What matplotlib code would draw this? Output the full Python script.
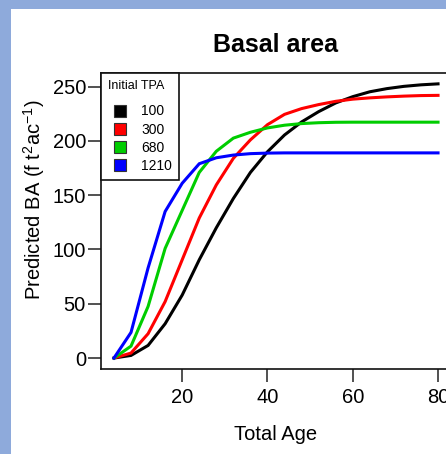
import matplotlib
matplotlib.use("Agg")
import matplotlib.pyplot as plt
from matplotlib.lines import Line2D
from matplotlib.patches import Rectangle

plt.rcParams['font.family'] = ['Liberation Sans', 'DejaVu Sans']
plt.rcParams['mathtext.fontset'] = 'custom'
plt.rcParams['mathtext.rm'] = 'Liberation Sans'
plt.rcParams['mathtext.default'] = 'regular'

# ---- data ----
ages = [4, 8, 12, 16, 20, 24, 28, 32, 36, 40, 44, 48, 52, 56, 60, 64, 68, 72, 76, 80]
ba_100 = [0, 2.4, 11.6, 31.6, 58, 90.5, 120, 147, 171, 190, 205.5, 217.5, 227, 235, 240.8, 245.3, 248.2, 250.3, 251.7, 252.6]
ba_300 = [0, 4.6, 22.4, 52, 90.5, 129, 159.5, 184, 201, 215, 224.5, 229.8, 233.5, 236.5, 238.5, 239.7, 240.6, 241.3, 241.8, 242]
ba_680 = [0, 11, 47.5, 101, 136, 171, 190.5, 202.6, 208, 212, 214.5, 216, 216.8, 217.2, 217.3, 217.3, 217.3, 217.3, 217.3, 217.3]
ba_1210 = [0, 23.6, 83, 135, 161, 179, 184.5, 187, 188.3, 188.8, 189, 189, 189, 189, 189, 189, 189, 189, 189, 189]
series = [ba_100, ba_300, ba_680, ba_1210]
labels = ['100', '300', '680', '1210']
colors = ['#000000', '#ff0000', '#00cd00', '#0000ff']
xticks = [20, 40, 60, 80]
yticks = [0, 50, 100, 150, 200, 250]

W, H = 446, 454
fig = plt.figure(figsize=(W / 100, H / 100), dpi=100)
fig.patch.set_facecolor('#8eaadb')
fig.patches.append(Rectangle((11 / W, 0), 1, 1 - 8.5 / H, transform=fig.transFigure,
                             facecolor='white', edgecolor='none', zorder=0))

left, right, top, bottom = 101, 451, 73, 369
ax = fig.add_axes([left / W, 1 - bottom / H, (right - left) / W, (bottom - top) / H])
ax.set_zorder(1)

for vals, c in zip(series, colors):
    ax.plot(ages, vals, color=c, lw=2.2, solid_joinstyle='miter')

ax.set_xlim(0.96, 83.04)
ax.set_ylim(-10.1, 262.6)
ax.set_xticks(xticks)
ax.set_yticks(yticks)
ax.tick_params(axis='both', labelsize=14.5, length=9.3, width=1.1, color='#222222', direction='out')
ax.tick_params(axis='y', pad=1.5)
ax.tick_params(axis='x', pad=4.5)
for sp in ax.spines.values():
    sp.set_linewidth(1.2)
    sp.set_color('#111111')

handles = [Line2D([], [], linestyle='none', marker='s', markersize=8, markerfacecolor=c,
                  markeredgecolor='#333333', markeredgewidth=0.8) for c in colors]
leg = ax.legend(handles, labels, title='Initial TPA', loc='upper left', bbox_to_anchor=(0, 1),
                borderaxespad=0, fancybox=False, edgecolor='#111111', framealpha=1,
                fontsize=10, title_fontsize=9, handlelength=1.8, handletextpad=0.6,
                labelspacing=0.3, borderpad=0.5)
leg.get_frame().set_linewidth(1.2)
leg._legend_box.align = 'left'
leg._legend_box.sep = 9.0

fig.text(275.5 / W, 1 - 52 / H, 'Basal area', ha='center', va='baseline',
         fontsize=18, fontweight='bold')
fig.text(276 / W, 1 - 440 / H, 'Total Age', ha='center', va='baseline', fontsize=14.5)
fig.text(34 / W, 1 - 200 / H, 'Predicted BA (f t$^{2}$ac$^{-1}$)', ha='center', va='center',
         rotation=90, fontsize=14.5)

fig.savefig('out.png', dpi=100, facecolor=fig.get_facecolor())
